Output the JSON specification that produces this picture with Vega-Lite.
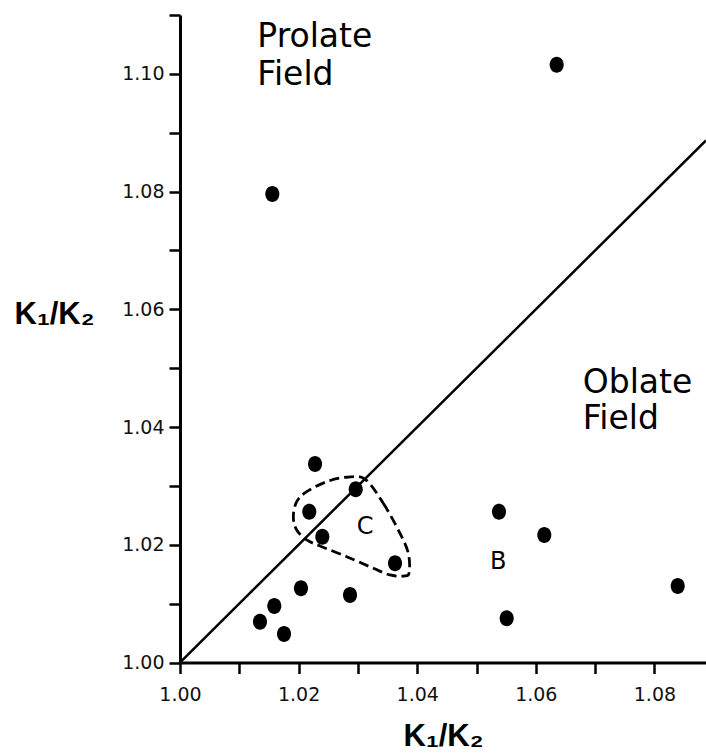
{
  "$schema": "https://vega.github.io/schema/vega-lite/v6.json",
  "width": 526,
  "height": 647.5,
  "autosize": "none",
  "padding": {"left": 180, "top": 15, "right": 0, "bottom": 93.5},
  "background": "white",
  "config": {
    "view": {"stroke": null},
    "font": "DejaVu Sans",
    "axis": {
      "grid": false,
      "domainColor": "black",
      "domainWidth": 3,
      "tickColor": "black",
      "tickWidth": 2.5,
      "tickSize": 11,
      "labelColor": "#111",
      "labelFont": "DejaVu Sans",
      "labelFontSize": 19,
      "titleFont": "Liberation Sans",
      "titleColor": "black"
    }
  },
  "datasets": {
    "pts": [
      {"x": 1.01557, "y": 1.07961},
      {"x": 1.06352, "y": 1.10153},
      {"x": 1.02277, "y": 1.03373},
      {"x": 1.02180, "y": 1.02562},
      {"x": 1.02963, "y": 1.02943},
      {"x": 1.02400, "y": 1.02138},
      {"x": 1.03626, "y": 1.01686},
      {"x": 1.02040, "y": 1.01261},
      {"x": 1.02867, "y": 1.01147},
      {"x": 1.01590, "y": 1.00960},
      {"x": 1.01349, "y": 1.00693},
      {"x": 1.01754, "y": 1.00484},
      {"x": 1.05379, "y": 1.02562},
      {"x": 1.06143, "y": 1.02167},
      {"x": 1.08393, "y": 1.01300},
      {"x": 1.05509, "y": 1.00751}
    ],
    "diag": [
      {"x": 1.0, "y": 1.0},
      {"x": 1.0887, "y": 1.0887}
    ],
    "loop": [
      {"i": 0, "x": 1.03120, "y": 1.03113},
      {"i": 1, "x": 1.03428, "y": 1.02705},
      {"i": 2, "x": 1.03710, "y": 1.02195},
      {"i": 3, "x": 1.03850, "y": 1.01856},
      {"i": 4, "x": 1.03867, "y": 1.01543},
      {"i": 5, "x": 1.03794, "y": 1.01470},
      {"i": 6, "x": 1.03541, "y": 1.01487},
      {"i": 7, "x": 1.03260, "y": 1.01601},
      {"i": 8, "x": 1.02811, "y": 1.01798},
      {"i": 9, "x": 1.02361, "y": 1.01980},
      {"i": 10, "x": 1.02137, "y": 1.02082},
      {"i": 11, "x": 1.01968, "y": 1.02251},
      {"i": 12, "x": 1.01911, "y": 1.02477},
      {"i": 13, "x": 1.01968, "y": 1.02732},
      {"i": 14, "x": 1.02137, "y": 1.02902},
      {"i": 15, "x": 1.02474, "y": 1.03072},
      {"i": 16, "x": 1.02811, "y": 1.03147}
    ],
    "fields": [
      {"label": "Prolate", "x": 1.01304, "y": 1.10454},
      {"label": "Field", "x": 1.01304, "y": 1.09813},
      {"label": "Oblate", "x": 1.06791, "y": 1.04585},
      {"label": "Field", "x": 1.06791, "y": 1.03963}
    ],
    "groups": [
      {"label": "C", "x": 1.03120, "y": 1.02297},
      {"label": "B", "x": 1.05368, "y": 1.01713}
    ]
  },
  "layer": [
    {
      "data": {"name": "diag"},
      "mark": {"type": "line", "color": "black", "strokeWidth": 2.5, "clip": true},
      "encoding": {
        "x": {
          "field": "x", "type": "quantitative",
          "scale": {"domain": [1.0, 1.0887], "nice": false, "zero": false},
          "axis": {
            "values": [1.0, 1.01, 1.02, 1.03, 1.04, 1.05, 1.06, 1.07, 1.08],
            "labelExpr": "round(datum.value*100) % 2 == 0 ? format(datum.value, '.2f') : ''",
            "labelPadding": 12,
            "labelFlush": false,
            "title": "K₁/K₂",
            "titleFontSize": 31,
            "titleFontWeight": "bold",
            "titleBaseline": "alphabetic",
            "titleY": 82.5
          }
        },
        "y": {
          "field": "y", "type": "quantitative",
          "scale": {"domain": [1.0, 1.11], "nice": false, "zero": false},
          "axis": {
            "values": [1.0, 1.01, 1.02, 1.03, 1.04, 1.05, 1.06, 1.07, 1.08, 1.09, 1.10, 1.11],
            "labelExpr": "round(datum.value*100) % 2 == 0 ? format(datum.value, '.2f') : ''",
            "labelPadding": 5,
            "labelFlush": false,
            "title": "K₁/K₂",
            "titleFontSize": 31,
            "titleFontWeight": "bold",
            "titleAngle": 0,
            "titleAlign": "left",
            "titleBaseline": "alphabetic",
            "titleX": -166,
            "titleY": 308
          }
        }
      }
    },
    {
      "data": {"name": "loop"},
      "mark": {"type": "line", "color": "black", "strokeWidth": 2.8, "strokeDash": [10, 5], "interpolate": "cardinal-closed"},
      "encoding": {
        "x": {"field": "x", "type": "quantitative"},
        "y": {"field": "y", "type": "quantitative"},
        "order": {"field": "i", "type": "quantitative"}
      }
    },
    {
      "data": {"name": "pts"},
      "mark": {"type": "point", "shape": "M0,-1A0.88,1,0,1,1,0,1A0.88,1,0,1,1,0,-1Z", "filled": true, "color": "black", "opacity": 1, "size": 256},
      "encoding": {
        "x": {"field": "x", "type": "quantitative"},
        "y": {"field": "y", "type": "quantitative"}
      }
    },
    {
      "data": {"name": "fields"},
      "mark": {"type": "text", "align": "left", "baseline": "alphabetic", "fontSize": 33, "font": "DejaVu Sans", "color": "black"},
      "encoding": {
        "x": {"field": "x", "type": "quantitative"},
        "y": {"field": "y", "type": "quantitative"},
        "text": {"field": "label"}
      }
    },
    {
      "data": {"name": "groups"},
      "mark": {"type": "text", "align": "center", "baseline": "middle", "fontSize": 24, "font": "DejaVu Sans", "color": "black"},
      "encoding": {
        "x": {"field": "x", "type": "quantitative"},
        "y": {"field": "y", "type": "quantitative"},
        "text": {"field": "label"}
      }
    }
  ]
}
